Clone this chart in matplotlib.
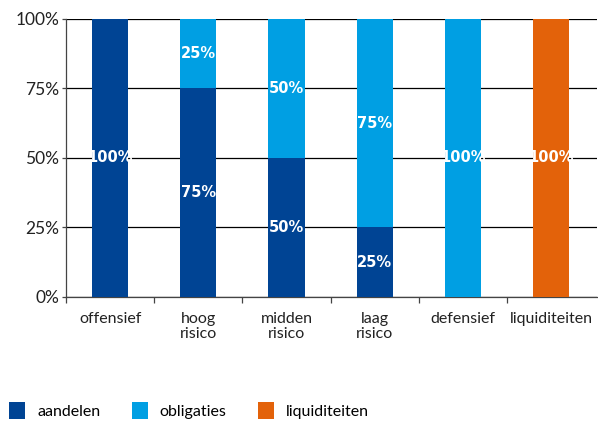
import matplotlib.pyplot as plt
from matplotlib.patches import Patch
import numpy as np

categories = ['offensief', 'hoog\nrisico', 'midden\nrisico', 'laag\nrisico', 'defensief', 'liquiditeiten']
aandelen = [100, 75, 50, 25, 0, 0]
obligaties = [0, 25, 50, 75, 100, 0]
liquiditeiten = [0, 0, 0, 0, 0, 100]
series_names = ['aandelen', 'obligaties', 'liquiditeiten']
colors = ['#004494', '#009FE3', '#E3620A']

plt.rcParams['font.family'] = ['Lato', 'DejaVu Sans']

fig = plt.figure(figsize=(5.98, 4.23), dpi=100)
ax = fig.add_axes([0.1104, 0.2979, 0.888, 0.6572])

x = np.arange(len(categories))
width = 0.41
bottom = np.zeros(len(categories))
for vals, col in zip([aandelen, obligaties, liquiditeiten], colors):
    vals = np.array(vals, dtype=float)
    ax.bar(x, vals, width, bottom=bottom, color=col, zorder=3)
    for xi, v, b in zip(x, vals, bottom):
        if v > 0:
            ax.text(xi, b + v / 2, f'{int(v)}%', ha='center', va='center',
                    color='white', fontsize=10.5, fontweight='bold', zorder=4,
                    family='DejaVu Sans')
    bottom += vals

ax.set_xlim(-0.5, 5.52)
ax.set_ylim(0, 100)
ax.set_yticks([0, 25, 50, 75, 100])
ax.set_yticklabels(['0%', '25%', '50%', '75%', '100%'], fontsize=12.5, color='#222222')
ax.yaxis.grid(True, color='black', linewidth=0.9, zorder=0)
ax.tick_params(axis='y', length=3, width=0.9, color='#444444', pad=2)

ax.set_xticks(x)
ax.set_xticklabels(categories, fontsize=11.5, color='#222222', linespacing=1.05)
ax.set_xticks(np.arange(-0.5, 5.5, 1.0), minor=True)
ax.tick_params(axis='x', which='major', length=0, pad=11)
ax.tick_params(axis='x', which='minor', length=4, width=0.9, color='#444444')

for s in ['top', 'right']:
    ax.spines[s].set_visible(False)
for s in ['left', 'bottom']:
    ax.spines[s].set_color('#444444')
    ax.spines[s].set_linewidth(0.9)
ax.set_axisbelow(True)

handles = [Patch(facecolor=c, label=n) for n, c in zip(series_names, colors)]
fig.legend(handles=handles, loc='center left', bbox_to_anchor=(0.005, 0.03),
           ncol=3, frameon=False, fontsize=11.5, handlelength=1.0, handleheight=1.3,
           handletextpad=0.75, columnspacing=1.95, borderaxespad=0)

fig.savefig('out.png', dpi=100)
